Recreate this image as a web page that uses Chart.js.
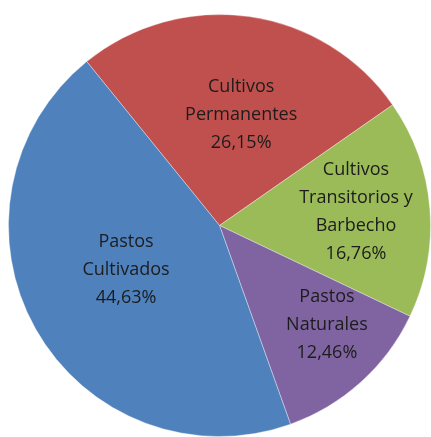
<!DOCTYPE html>
<html>
<head>
<meta charset="utf-8">
<script src="https://cdn.jsdelivr.net/npm/chart.js@4"></script>
<style>
	html, body { margin: 0; padding: 0; background: #fff; overflow: hidden; }
	#wrap { width: 431px; height: 437px; }
</style>
</head>
<body>
<div id="wrap"><canvas id="usoSuelo"></canvas></div>
<script>
const labels = [
	['Cultivos', 'Permanentes'],
	['Cultivos', 'Transitorios y', 'Barbecho'],
	['Pastos', 'Naturales'],
	['Pastos', 'Cultivados']
];
const values = [26.15, 16.76, 12.46, 44.63];
const colors = ['#c0504d', '#9bbb59', '#8064a2', '#4f81bd'];

// where each label sits inside its slice: fraction of radius, angle nudge (deg)
const labelRadius = [0.535, 0.65, 0.695, 0.49];
const labelNudge = [3, -1, -5, 4];

const sliceLabels = {
	id: 'sliceLabels',
	afterDatasetsDraw(chart) {
		const c = chart.ctx;
		const meta = chart.getDatasetMeta(0);
		c.save();
		c.font = '18px "Open Sans", sans-serif';
		c.fillStyle = '#1c1c1c';
		c.textAlign = 'center';
		c.textBaseline = 'middle';
		meta.data.forEach((arc, i) => {
			const mid = (arc.startAngle + arc.endAngle) / 2 + labelNudge[i] * Math.PI / 180;
			const r = arc.outerRadius * labelRadius[i];
			const x = arc.x + Math.cos(mid) * r;
			const y = arc.y + Math.sin(mid) * r;
			const lines = labels[i].concat([values[i].toFixed(2).replace('.', ',') + '%']);
			const lh = 28;
			lines.forEach((t, k) => {
				c.fillText(t, x, y + (k - (lines.length - 1) / 2) * lh);
			});
		});
		c.restore();
	}
};

const chart = new Chart(document.getElementById('usoSuelo'), {
	type: 'pie',
	data: {
		labels: labels.map(l => l.join(' ')),
		datasets: [{
			data: values,
			backgroundColor: colors,
			borderColor: 'rgba(255,255,255,0.35)',
			borderWidth: 1
		}]
	},
	options: {
		responsive: true,
		maintainAspectRatio: false,
		animation: false,
		rotation: -39,
		layout: { padding: { left: 8, right: -3, top: 14, bottom: -3 } },
		plugins: {
			legend: { display: false },
			tooltip: { enabled: false }
		}
	},
	plugins: [sliceLabels]
});
</script>
</body>
</html>
